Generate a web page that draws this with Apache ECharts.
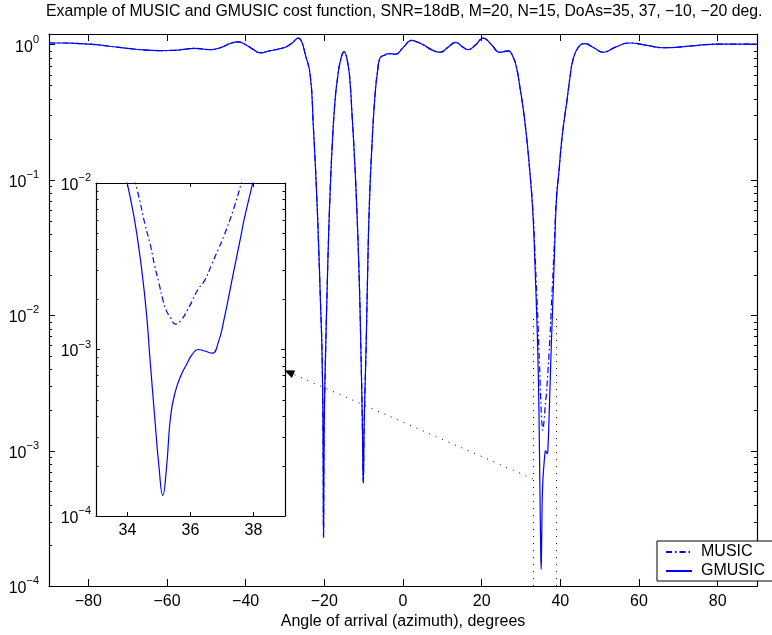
<!DOCTYPE html>
<html>
<head>
<meta charset="utf-8">
<script src="https://cdn.jsdelivr.net/npm/echarts@6.0.0/dist/echarts.min.js"></script>
<style>
html, body { margin: 0; padding: 0; background: #fff; }
#chart { width: 772px; height: 635px; }
</style>
</head>
<body>
<div id="chart"></div>
<script>
// angle grid (deg) shared by both cost functions
const angles = [
  -90, -86, -82, -78, -74, -70, -66, -62, -58, -55, -53, -51, -49, -46, -44, -42, -40, -38, -36.3, -34,
  -31.2, -29.5, -28, -26.6, -25.8, -24.9, -23.6, -22.8, -22.0, -21.5, -21.0, -20.6, -20.35, -20.2, -20.05, -19.7, -19.3, -18.9, -18.5, -18.0,
  -17.3, -16.6, -16.0, -15.0, -14.0, -13.4, -13.0, -12.4, -11.8, -11.2, -10.7, -10.35, -10.1, -9.85, -9.4, -9.0, -8.6, -7.9, -7.1, -6.4,
  -5.8, -4.6, -3.7, -2.0, 0.0, 2.2, 3.5, 5.15, 7.2, 9.4, 11.5, 13.4, 15.0, 16.6, 18.5, 20.4, 22.5, 24.6, 26.7, 28.0,
  29.0, 29.7, 30.6, 31.4, 32.2, 33.0, 33.5, 34.0, 34.3, 34.57, 34.72, 34.86, 35.0, 35.12, 35.24, 35.37, 35.52, 35.7, 35.9, 36.05,
  36.24, 36.45, 36.69, 36.88, 37.06, 37.38, 37.6, 37.7, 38.0, 38.5, 39.0, 39.7, 40.3, 41.0, 41.6, 42.4, 43.2, 44.5, 46.2, 48.5,
  50.9, 54, 57.6, 62, 66, 70, 75, 80, 85, 90
]
const gmusic = [
  1.03, 1.03, 1.02, 1.0, 0.97, 0.94, 0.915, 0.905, 0.91, 0.93, 0.94, 0.93, 0.92, 0.96, 1.02, 1.05, 1.0, 0.92, 0.87, 0.9,
  0.935, 0.97, 1.04, 1.12, 1.06, 0.86, 0.6, 0.25, 0.085, 0.036, 0.013, 0.0055, 0.0016, 0.00023, 0.0014, 0.005, 0.015, 0.04, 0.085, 0.18,
  0.38, 0.58, 0.74, 0.885, 0.72, 0.5, 0.32, 0.16, 0.067, 0.022, 0.0055, 0.0017, 0.00058, 0.0017, 0.0055, 0.02, 0.06, 0.18, 0.43, 0.66,
  0.8, 0.84, 0.86, 0.85, 0.95, 1.075, 1.05, 1.0, 0.92, 0.88, 0.96, 1.04, 0.97, 0.92, 1.0, 1.12, 1.0, 0.88, 0.9, 0.81,
  0.65, 0.49, 0.33, 0.21, 0.12, 0.058, 0.026, 0.0098, 0.0049, 0.0019, 0.00085, 0.0004, 0.000197, 0.000133, 0.000197, 0.0004, 0.00056, 0.0007, 0.00083, 0.00093,
  0.001, 0.00098, 0.00095, 0.0011, 0.0015, 0.003, 0.0048, 0.006, 0.0105, 0.028, 0.07, 0.12, 0.19, 0.28, 0.37, 0.56, 0.77, 0.95, 1.02, 0.95,
  0.88, 0.96, 1.03, 0.99, 0.95, 0.96, 0.99, 1.01, 1.01, 1.01
]
const music = [
  1.03, 1.03, 1.02, 1.0, 0.97, 0.94, 0.915, 0.905, 0.91, 0.93, 0.94, 0.93, 0.92, 0.96, 1.02, 1.05, 1.0, 0.92, 0.87, 0.9,
  0.935, 0.97, 1.04, 1.12, 1.06, 0.86, 0.6, 0.25, 0.085, 0.036, 0.013, 0.0055, 0.0016, 0.00023, 0.0014, 0.005, 0.015, 0.04, 0.085, 0.18,
  0.38, 0.58, 0.74, 0.885, 0.72, 0.5, 0.32, 0.16, 0.067, 0.022, 0.0055, 0.0017, 0.00058, 0.0017, 0.0055, 0.02, 0.06, 0.18, 0.43, 0.66,
  0.8, 0.84, 0.86, 0.85, 0.95, 1.075, 1.05, 1.0, 0.92, 0.88, 0.96, 1.04, 0.97, 0.92, 1.0, 1.12, 1.0, 0.88, 0.9, 0.81,
  0.65, 0.49, 0.33, 0.21, 0.12, 0.062, 0.032, 0.0145, 0.0092, 0.0055, 0.0043, 0.0032, 0.0025, 0.002, 0.0017, 0.00155, 0.00142, 0.0015, 0.00172, 0.00195,
  0.0023, 0.0026, 0.0033, 0.004, 0.0048, 0.0071, 0.0098, 0.0115, 0.017, 0.036, 0.075, 0.12, 0.19, 0.28, 0.37, 0.56, 0.77, 0.95, 1.02, 0.95,
  0.88, 0.96, 1.03, 0.99, 0.95, 0.96, 0.99, 1.01, 1.01, 1.01
]

const xTicks = [-80, -60, -40, -20, 0, 20, 40, 60, 80]
const insetTicks = [34, 36, 38]
const xRange = [-90, 90]
const yRange = [1e-4, 1.2]
const insetXRange = [33, 39]
const insetYRange = [1e-4, 1e-2]
// arrow from the zoomed region to the inset (main axes coords)
const arrowFrom = [33, 6.2e-4]
const arrowTo = [-29, 3.8e-3]

const FONT = 'Liberation Sans, Arial, Helvetica, sans-serif'
const BLUE = '#0000ff'

function minus(v) {
  return v < 0 ? '\u2212' + (-v) : String(v)
}
function powLabel(v) {
  const e = Math.log10(v)
  const r = Math.round(e)
  if (Math.abs(e - r) > 1e-6) return ''
  return '{b|10}{s|' + minus(r) + '}'
}
// 2..9 x 10^k positions for the log minor ticks
function minorValues(lo, hi) {
  const out = []
  for (let k = Math.floor(Math.log10(lo)); k <= Math.ceil(Math.log10(hi)); k++) {
    for (let m = 2; m <= 9; m++) {
      const v = m * Math.pow(10, k)
      if (v > lo && v < hi) out.push([0, v])
    }
  }
  return out
}

const axisLine = { show: true, onZero: false, lineStyle: { color: '#000', width: 1.2 } }

function xAxisDef(grid, pos, range, ticks, showLabel, tickLen) {
  return {
    type: 'value', gridIndex: grid, position: pos, min: range[0], max: range[1], z: 2,
    axisLine: axisLine,
    splitLine: { show: false },
    axisTick: { inside: true, length: tickLen, customValues: ticks, lineStyle: { color: '#000', width: 1 } },
    axisLabel: {
      show: showLabel, customValues: ticks, formatter: minus, margin: 7,
      fontSize: 16, color: '#000', fontFamily: FONT
    }
  }
}
function yAxisDef(grid, pos, range, showLabel, tickLen, margin) {
  return {
    type: 'log', logBase: 10, gridIndex: grid, position: pos, min: range[0], max: range[1], z: 2,
    axisLine: axisLine,
    splitLine: { show: false },
    axisTick: { inside: true, length: tickLen, lineStyle: { color: '#000', width: 1 } },
    axisLabel: {
      show: showLabel, formatter: powLabel, margin: margin,
      rich: {
        b: { fontSize: 16, color: '#000', fontFamily: FONT, padding: [5, 0, 0, 0], verticalAlign: 'bottom' },
        s: { fontSize: 11, color: '#000', fontFamily: FONT, verticalAlign: 'top' }
      }
    }
  }
}
function minorTicks(xi, yi, range, len) {
  return {
    type: 'custom', xAxisIndex: xi, yAxisIndex: yi, silent: true, clip: false, z: 2,
    data: minorValues(range[0], range[1]),
    renderItem: (params, api) => {
      const cs = params.coordSys
      const y = Math.round(api.coord([api.value(0), api.value(1)])[1]) + 0.5
      const st = { stroke: '#000', lineWidth: 1 }
      return {
        type: 'group',
        children: [
          { type: 'line', shape: { x1: cs.x, y1: y, x2: cs.x + len, y2: y }, style: st },
          { type: 'line', shape: { x1: cs.x + cs.width - len, y1: y, x2: cs.x + cs.width, y2: y }, style: st }
        ]
      }
    }
  }
}
function curve(name, vals, dash, xi, yi) {
  return {
    type: 'line', name: name, xAxisIndex: xi, yAxisIndex: yi,
    data: angles.map((a, i) => [a, vals[i]]),
    symbol: 'none', showSymbol: false, smooth: 0.5, clip: true,
    lineStyle: { color: BLUE, width: 1.2, type: dash },
    itemStyle: { color: BLUE }
  }
}

const chart = echarts.init(document.getElementById('chart'), null, { renderer: 'canvas' })

const mainG = curve('GMUSIC', gmusic, 'solid', 0, 0)
mainG.markLine = {
  silent: true, animation: false, symbol: ['none', 'none'],
  label: { show: false },
  lineStyle: { color: '#000', type: [1, 6], width: 1 },
  emphasis: { disabled: true },
  data: [
    [{ coord: [insetXRange[0], insetYRange[0]] }, { coord: [insetXRange[0], insetYRange[1]] }],
    [{ coord: [insetXRange[1], insetYRange[0]] }, { coord: [insetXRange[1], insetYRange[1]] }],
    [{ coord: arrowFrom }, { coord: arrowTo, symbol: 'triangle', symbolSize: [8, 10] }]
  ]
}

chart.setOption({
  animation: false,
  backgroundColor: '#fff',
  title: {
    text: 'Example of MUSIC and GMUSIC cost function, SNR=18dB, M=20, N=15, DoAs=35, 37, \u221210, \u221220 deg.',
    left: 46, top: 4, padding: 0,
    textStyle: { fontSize: 15.8, fontWeight: 'normal', color: '#000', fontFamily: FONT }
  },
  legend: {
    data: ['MUSIC', 'GMUSIC'], orient: 'vertical', left: 657, top: 541, z: 10,
    itemWidth: 26, itemHeight: 14, itemGap: 3, padding: [3, 24, 2, 8],
    borderColor: '#000', borderWidth: 1, backgroundColor: '#fff', borderRadius: 0,
    selectedMode: false,
    itemStyle: { opacity: 0 },
    textStyle: { fontSize: 16, color: '#000', fontFamily: FONT, padding: [0, 0, 0, 4] }
  },
  grid: [
    { left: 49, top: 34, width: 708, height: 558 },
    { left: 96, top: 183, width: 189, height: 333, show: true, backgroundColor: '#fff', borderWidth: 0, z: 0 }
  ],
  xAxis: [
    Object.assign(xAxisDef(0, 'bottom', xRange, xTicks, true, 7), {
      name: 'Angle of arrival (azimuth), degrees', nameLocation: 'middle', nameGap: 23,
      nameTextStyle: { fontSize: 16, color: '#000', fontFamily: FONT }
    }),
    xAxisDef(0, 'top', xRange, xTicks, false, 7),
    xAxisDef(1, 'bottom', insetXRange, insetTicks, true, 4),
    xAxisDef(1, 'top', insetXRange, insetTicks, false, 4)
  ],
  yAxis: [
    yAxisDef(0, 'left', yRange, true, 6, 10),
    yAxisDef(0, 'right', yRange, false, 6, 10),
    yAxisDef(1, 'left', insetYRange, true, 4, 5),
    yAxisDef(1, 'right', insetYRange, false, 4, 5)
  ],
  series: [
    curve('MUSIC', music, [6, 3, 1.5, 3], 0, 0),
    mainG,
    curve('MUSIC', music, [6, 3, 1.5, 3], 2, 2),
    curve('GMUSIC', gmusic, 'solid', 2, 2),
    minorTicks(0, 0, yRange, 3),
    minorTicks(2, 2, insetYRange, 2.5)
  ]
})
</script>
</body>
</html>
